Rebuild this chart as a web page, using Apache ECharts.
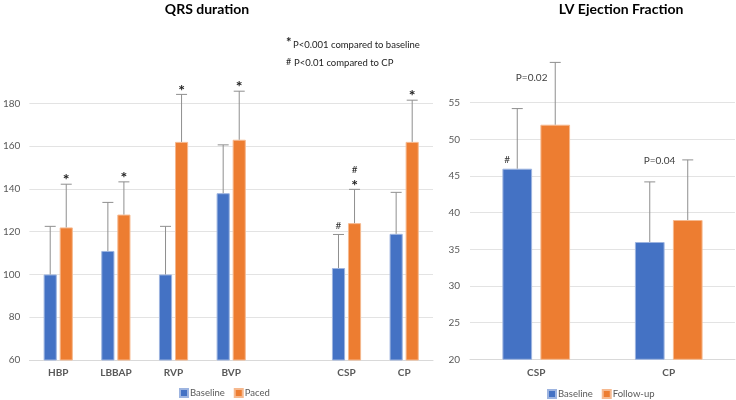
<!DOCTYPE html>
<html><head><meta charset="utf-8">
<script src="https://cdn.jsdelivr.net/npm/echarts@6/dist/echarts.min.js"></script>
<style>html,body{margin:0;padding:0;background:#fff}#c{width:736px;height:400px}</style>
</head><body><div id="c"></div>
<script>
// ---- QRS duration data ----
const qrsCategories = ['HBP','LBBAP','RVP','BVP','','CSP','CP'];
const qrsBaseline = [100,111,100,138,'-',103,119];
const qrsPaced = [122,128,162,163,'-',124,162];
const qrsBaselineErrTop = [122.5,133.7,122.5,160.6,null,118.7,138.4];
const qrsPacedErrTop = [142.2,143.3,184.2,185.7,null,139.8,181.5];
const qrsBaselineMarks = ['','','','','','#',''];
const qrsPacedMarks = [['*'],['*'],['*'],['*'],[],['*','#'],['*']];
const qrsNotes = ['P<0.001 compared to baseline','P<0.01 compared to CP'];
const qrsNoteSymbols = ['*','#'];

// ---- LV Ejection Fraction data ----
const lvCategories = ['CSP','CP'];
const lvBaseline = [46,36];
const lvFollowup = [52,39];
const lvBaselineErrTop = [54.2,44.2];
const lvFollowupErrTop = [60.5,47.2];
const lvBaselineNotes = ['#',''];
const lvFollowupNotes = ['P=0.02','P=0.04'];

const BLUE = '#4472C4', ORANGE = '#ED7D31';
const FONT = 'Lato';
const ERR = '#8f8f8f';
const L_BAR = 0.228, L_GAP = 0.22, R_BAR = 0.224, R_GAP = 0.28;

function makeErr(vals, tops, side, barFrac, gapFrac, extra) {
  return function (params, api) {
    const i = params.dataIndex;
    const top = tops[i];
    const v = vals[i];
    if (top == null || v === '-') return null;
    const band = api.size([1, 0])[0];
    const w = band * barFrac, g = w * gapFrac;
    const p0 = api.coord([i, v]);
    const p1 = api.coord([i, top]);
    const x = p0[0] + side * (w + g) / 2;
    const children = [
      {type:'line', shape:{x1:x, y1:p0[1], x2:x, y2:p1[1]}, style:{stroke:ERR, lineWidth:1}},
      {type:'line', shape:{x1:x-5.5, y1:p1[1], x2:x+5.5, y2:p1[1]}, style:{stroke:ERR, lineWidth:1}}
    ];
    if (extra) extra(children, i, x, p0[1], p1[1]);
    return {type:'group', children};
  };
}

function errData(n) { const a = []; for (let i = 0; i < n; i++) a.push([i, 0]); return a; }

const noteStyle = {fontFamily:FONT, fontSize:9.5, fontWeight:'normal', color:'#222'};
const option = {
  animation: false,
  title: [
    {text:'QRS duration', left:202, top:-3, textAlign:'center',
     textStyle:{fontFamily:FONT, fontSize:14, fontWeight:'bold', color:'#000'}},
    {text:'LV Ejection Fraction', left:616, top:-3, textAlign:'center',
     textStyle:{fontFamily:FONT, fontSize:14, fontWeight:'bold', color:'#000'}},
    {text:qrsNoteSymbols[0], left:281, top:31, textStyle:{fontFamily:FONT, fontSize:13, fontWeight:'bold', color:'#222'}},
    {text:qrsNotes[0], left:288, top:35, textStyle:noteStyle},
    {text:qrsNoteSymbols[1], left:281, top:53, textStyle:{fontFamily:FONT, fontSize:9, fontWeight:'normal', color:'#222'}},
    {text:qrsNotes[1], left:289, top:53, textStyle:noteStyle}
  ],
  legend: [
    {data:['Baseline','Paced'], left:174, top:383, itemWidth:8, itemHeight:8, itemGap:9, icon:'rect',
     textStyle:{fontFamily:FONT, fontSize:9.5, color:'#595959', padding:[0,0,0,-3]}},
    {data:['Baseline','Follow-up'], left:542, top:384, itemWidth:8, itemHeight:8, itemGap:9, icon:'rect',
     textStyle:{fontFamily:FONT, fontSize:9.5, color:'#595959', padding:[0,0,0,-3]}}
  ],
  grid: [
    {left:25, right:303, top:82, bottom:40},
    {left:470, right:1, top:73.4, bottom:40.7}
  ],
  xAxis: [
    {type:'category', gridIndex:0, data:qrsCategories, axisTick:{show:false},
     axisLine:{lineStyle:{color:'#d9d9d9'}},
     axisLabel:{fontFamily:FONT, fontSize:10, fontWeight:'bold', color:'#595959', margin:8}},
    {type:'category', gridIndex:1, data:lvCategories, axisTick:{show:false},
     axisLine:{lineStyle:{color:'#d9d9d9'}},
     axisLabel:{fontFamily:FONT, fontSize:10, fontWeight:'bold', color:'#595959', margin:8}}
  ],
  yAxis: [
    {type:'value', gridIndex:0, min:60, max:190, interval:20,
     axisLine:{show:false}, axisTick:{show:false},
     axisLabel:{fontFamily:FONT, fontSize:10, color:'#595959', margin:9, showMaxLabel:false},
     splitLine:{lineStyle:{color:'#e3e3e3'}, showMaxLine:false}},
    {type:'value', gridIndex:1, min:20, max:59, interval:5,
     axisLine:{show:false}, axisTick:{show:false},
     axisLabel:{fontFamily:FONT, fontSize:10, color:'#595959', margin:10, showMaxLabel:false},
     splitLine:{lineStyle:{color:'#e3e3e3'}, showMaxLine:false}}
  ],
  series: [
    {name:'Baseline', type:'bar', xAxisIndex:0, yAxisIndex:0, data:qrsBaseline,
     barWidth:(L_BAR*100)+'%', barGap:(L_GAP*100)+'%',
     itemStyle:{color:BLUE, borderColor:'#9db4e0', borderWidth:1}},
    {name:'Paced', type:'bar', xAxisIndex:0, yAxisIndex:0, data:qrsPaced,
     barWidth:(L_BAR*100)+'%', barGap:(L_GAP*100)+'%',
     itemStyle:{color:ORANGE, borderColor:'#f6b98f', borderWidth:1}},
    {name:'Baseline', type:'bar', xAxisIndex:1, yAxisIndex:1, data:lvBaseline,
     barWidth:(R_BAR*100)+'%', barGap:(R_GAP*100)+'%',
     itemStyle:{color:BLUE, borderColor:'#9db4e0', borderWidth:1}},
    {name:'Follow-up', type:'bar', xAxisIndex:1, yAxisIndex:1, data:lvFollowup,
     barWidth:(R_BAR*100)+'%', barGap:(R_GAP*100)+'%',
     itemStyle:{color:ORANGE, borderColor:'#f6b98f', borderWidth:1}},
    {type:'custom', xAxisIndex:0, yAxisIndex:0, data:errData(qrsCategories.length), z:5, clip:false,
     renderItem:makeErr(qrsBaseline, qrsBaselineErrTop, -1, L_BAR, L_GAP, function(ch, i, x, yb, yt){
       if (qrsBaselineMarks[i]) ch.push({type:'text', style:{text:qrsBaselineMarks[i], x:x, y:yt-9,
         align:'center', verticalAlign:'middle', fontFamily:FONT, fontSize:10, fill:'#333'}});
     })},
    {type:'custom', xAxisIndex:0, yAxisIndex:0, data:errData(qrsCategories.length), z:5, clip:false,
     renderItem:makeErr(qrsPaced, qrsPacedErrTop, 1, L_BAR, L_GAP, function(ch, i, x, yb, yt){
       qrsPacedMarks[i].forEach(function(m, k){
         ch.push({type:'text', style:{text:m, x:x, y:(m==='*' ? yt-4 : yt-20), align:'center', verticalAlign:'middle',
           fontFamily:FONT, fontSize:(m==='*'?16:10), fontWeight:(m==='*'?'bold':'normal'), fill:'#222'}});
       });
     })},
    {type:'custom', xAxisIndex:1, yAxisIndex:1, data:errData(lvCategories.length), z:5, clip:false,
     renderItem:makeErr(lvBaseline, lvBaselineErrTop, -1, R_BAR, R_GAP, function(ch, i, x, yb, yt){
       if (lvBaselineNotes[i]) ch.push({type:'text', style:{text:lvBaselineNotes[i], x:x-10, y:yb-9,
         align:'center', verticalAlign:'middle', fontFamily:FONT, fontSize:10, fill:'#333'}});
     })},
    {type:'custom', xAxisIndex:1, yAxisIndex:1, data:errData(lvCategories.length), z:5, clip:false,
     renderItem:makeErr(lvFollowup, lvFollowupErrTop, 1, R_BAR, R_GAP, function(ch, i, x, yb, yt){
       const off = i === 0 ? [-23.6, 15] : [-28.3, 1];
       if (lvFollowupNotes[i]) ch.push({type:'text', style:{text:lvFollowupNotes[i], x:x+off[0], y:yt+off[1],
         align:'center', verticalAlign:'middle', fontFamily:FONT, fontSize:10, fill:'#404040'}});
     })}
  ]
};
const chart = echarts.init(document.getElementById('c'), null, {renderer:'canvas'});
chart.setOption(option);
</script></body></html>
